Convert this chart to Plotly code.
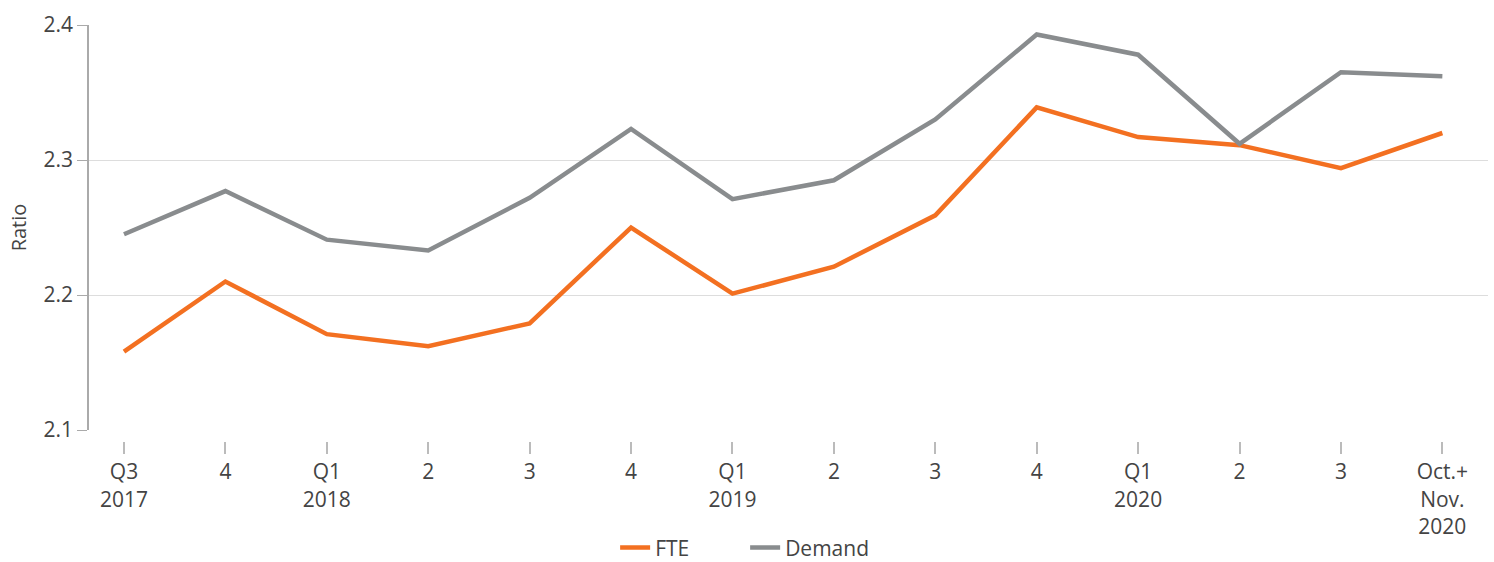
import plotly.graph_objects as go

categories = ["Q3<br>2017", "4", "Q1<br>2018", "2", "3", "4", "Q1<br>2019", "2", "3", "4",
              "Q1<br>2020", "2", "3", "Oct.+<br>Nov.<br>2020"]
fte = [2.158, 2.210, 2.171, 2.162, 2.179, 2.250, 2.201, 2.221, 2.259, 2.339, 2.317, 2.311, 2.294, 2.320]
demand = [2.245, 2.277, 2.241, 2.233, 2.272, 2.323, 2.271, 2.285, 2.330, 2.393, 2.378, 2.312, 2.365, 2.362]
y_ticks = [2.1, 2.2, 2.3, 2.4]

idx = list(range(len(categories)))
font_family = "Open Sans, Lato, sans-serif"
text_color = "#444444"

fig = go.Figure()
fig.add_trace(go.Scatter(x=idx, y=fte, mode="lines", name="FTE",
                         line=dict(color="#F37021", width=4.5)))
fig.add_trace(go.Scatter(x=idx, y=demand, mode="lines", name="Demand",
                         line=dict(color="#898C8E", width=4.5)))

fig.update_layout(
    width=1494, height=562,
    margin=dict(l=89, r=6, t=25, b=121, autoexpand=False),
    paper_bgcolor="white", plot_bgcolor="white",
    font=dict(family=font_family, size=21, color=text_color),
    showlegend=True,
    legend=dict(orientation="h", x=0.469, xanchor="center", y=-0.257, yanchor="middle",
                font=dict(size=21, color=text_color),
                entrywidth=85, entrywidthmode="pixels", itemwidth=30, tracegroupgap=0),
    xaxis=dict(
        range=[-0.345, 13.45], tickmode="array", tickvals=idx, ticktext=categories,
        showgrid=False, showline=False, zeroline=False,
        ticks="outside", ticklen=12, tickcolor="#bbbbbb", tickwidth=1.5,
        anchor="free", position=0, automargin=False,
        tickfont=dict(size=21, color=text_color),
    ),
    yaxis=dict(
        domain=[0.0264, 1], range=[2.1, 2.4], tickvals=y_ticks,
        ticktext=[f"{v:.1f}" for v in y_ticks],
        showgrid=True, gridcolor="#dddddd", gridwidth=1,
        showline=True, linecolor="#aaaaaa", linewidth=1.5,
        ticks="outside", ticklen=10, tickcolor="#aaaaaa",
        zeroline=False, automargin=False,
        tickfont=dict(size=21, color=text_color),
        title=dict(text="Ratio", font=dict(size=20, color=text_color), standoff=12),
    ),
)

fig.write_html("out.html", config={"displayModeBar": False},
               post_script="document.body.style.margin='0';")
